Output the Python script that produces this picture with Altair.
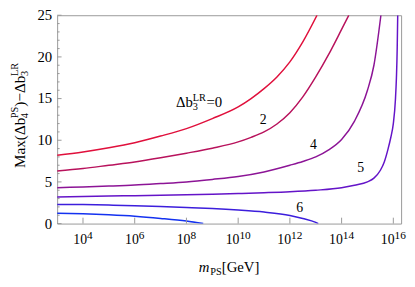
import altair as alt
import pandas as pd

# ---------------- data (log10 of m_PS in GeV, value) ----------------
curve_names = ["0", "2", "4", "5", "6", "7"]
curve_colors = ["#e0103c", "#b8125c", "#8c1496", "#6414c8", "#3c1edc", "#1432f0"]

e0 = [3, 4, 5, 6, 7, 8, 9, 10, 10.5, 11, 11.5, 12, 12.5, 13.05]
v0 = [8.2, 8.6, 9.1, 9.7, 10.5, 11.4, 12.6, 14.0, 15.0, 16.2, 17.6, 19.4, 21.8, 25]
e2 = [3, 4, 5, 6, 7, 8, 9, 10, 10.5, 11, 11.5, 12, 12.5, 13, 13.5, 14, 14.28]
v2 = [6.3, 6.6, 7.0, 7.4, 7.9, 8.45, 9.05, 9.8, 10.35, 11.0, 11.95, 13.3, 15.2, 17.6, 20.3, 23.3, 25]
e4 = [3, 4, 5, 6, 7, 8, 9, 10, 11, 12, 12.5, 13, 13.5, 14, 14.5, 15, 15.25, 15.52]
v4 = [4.3, 4.4, 4.5, 4.62, 4.8, 5.0, 5.3, 5.65, 6.2, 7.0, 7.45, 8.0, 8.85, 10.1, 12.3, 16.0, 19.0, 25]
e5 = [3, 4, 5, 6, 7, 8, 9, 10, 11, 12, 13, 14, 14.5, 15, 15.25, 15.5, 15.65, 15.8, 15.9, 16.0, 16.08, 16.12, 16.15, 16.17]
v5 = [3.2, 3.25, 3.3, 3.35, 3.4, 3.45, 3.52, 3.6, 3.7, 3.82, 4.0, 4.3, 4.6, 5.0, 5.45, 6.4, 7.4, 9.0, 10.3, 12.0, 14.8, 17.5, 21.0, 25]
e6 = [3, 4, 5, 6, 7, 8, 9, 10, 11, 12, 12.5, 13, 13.1]
v6 = [2.3, 2.28, 2.22, 2.15, 2.05, 1.93, 1.8, 1.62, 1.38, 0.98, 0.62, 0.15, 0]
e7 = [3, 4, 5, 6, 7, 8, 8.65]
v7 = [1.25, 1.17, 1.05, 0.88, 0.62, 0.3, 0]

curve_exps = [e0, e2, e4, e5, e6, e7]
curve_vals = [v0, v2, v4, v5, v6, v7]

# inline curve labels (log10 m, value)
num_labels = ["2", "4", "5", "6"]
num_lab_e = [10.97, 12.91, 14.74, 12.38]
num_lab_v = [12.38, 9.38, 6.71, 1.85]
main_lab_e = 7.6
main_lab_v = 13.97

x_tick_exps = [4, 6, 8, 10, 12, 14, 16]
y_major = [0, 5, 10, 15, 20, 25]
y_minor = [v for v in range(0, 26) if v % 5 != 0]

FONT = "Liberation Serif"
W, H = 350, 212

rows = []
for name, es, vs in zip(curve_names, curve_exps, curve_vals):
    for e, v in zip(es, vs):
        rows.append({"m": 10 ** e, "v": v, "curve": name})
df = pd.DataFrame(rows)

xscale = alt.Scale(type="log", domain=[1e3, 2e16], nice=False)
yscale = alt.Scale(domain=[0, 25], nice=False, zero=False)

lines = alt.Chart(df).mark_line(strokeWidth=1.5, interpolate="monotone", clip=True).encode(
    x=alt.X("m:Q", scale=xscale, axis=None),
    y=alt.Y("v:Q", scale=yscale, axis=None),
    color=alt.Color("curve:N", scale=alt.Scale(domain=curve_names, range=curve_colors), legend=None),
    detail="curve:N",
)

tick_gray = "#999999"
xt = alt.Chart(pd.DataFrame({"m": [10 ** e for e in x_tick_exps]})).mark_rule(color=tick_gray, strokeWidth=1).encode(
    x=alt.X("m:Q", scale=xscale), y=alt.value(H), y2=alt.value(H - 6))
ytM = alt.Chart(pd.DataFrame({"v": y_major})).mark_rule(color=tick_gray, strokeWidth=1).encode(
    y=alt.Y("v:Q", scale=yscale), x=alt.value(0), x2=alt.value(4.5))
ytm = alt.Chart(pd.DataFrame({"v": y_minor})).mark_rule(color=tick_gray, strokeWidth=1).encode(
    y=alt.Y("v:Q", scale=yscale), x=alt.value(0), x2=alt.value(2.5))

# y tick labels
ylab = alt.Chart(pd.DataFrame({"v": y_major, "t": [str(v) for v in y_major]})).mark_text(
    font=FONT, fontSize=15, color="black", align="right", baseline="middle").encode(
    y=alt.Y("v:Q", scale=yscale), x=alt.value(-5), text="t:N")

# x tick labels: "10" with a raised exponent, whole label centred on the tick
BASE, EXP = 14, 11.5
xlab_layers = []
for group in ([e for e in x_tick_exps if e < 10], [e for e in x_tick_exps if e >= 10]):
    ew = len(str(group[0])) * 0.5 * EXP
    wb = 2 * 0.5 * BASE
    off = (wb - ew) / 2
    d = pd.DataFrame({"m": [10 ** e for e in group], "b": ["10"] * len(group), "p": [str(e) for e in group]})
    xlab_layers.append(alt.Chart(d).mark_text(font=FONT, fontSize=BASE, color="black", align="right",
                                              baseline="alphabetic", dx=off).encode(
        x=alt.X("m:Q", scale=xscale), y=alt.value(H + 21), text="b:N"))
    xlab_layers.append(alt.Chart(d).mark_text(font=FONT, fontSize=EXP, color="black", align="left",
                                              baseline="alphabetic", dx=off).encode(
        x=alt.X("m:Q", scale=xscale), y=alt.value(H + 16), text="p:N"))

# number labels
nl = alt.Chart(pd.DataFrame({"m": [10 ** e for e in num_lab_e], "v": num_lab_v, "t": num_labels})).mark_text(
    font=FONT, fontSize=14, color="black", baseline="middle", align="center").encode(
    x=alt.X("m:Q", scale=xscale), y=alt.Y("v:Q", scale=yscale), text="t:N")

# main label  Δb_3^LR = 0
def lab(text, size, dx, dy):
    return alt.Chart(pd.DataFrame({"m": [10 ** main_lab_e], "v": [main_lab_v], "t": [text]})).mark_text(
        font=FONT, fontSize=size, color="black", align="left", baseline="alphabetic", dx=dx, dy=dy).encode(
        x=alt.X("m:Q", scale=xscale), y=alt.Y("v:Q", scale=yscale), text="t:N")

main_parts = [lab("Δb", 15, 0, 0), lab("LR", 10.5, 17, -6), lab("3", 10.5, 17, 3), lab("=0", 15, 31, 0)]

# axis titles as composed text
def ptext(text, x, y, size, angle=0, style="normal"):
    kw = dict(font=FONT, fontSize=size, color="black", align="left", baseline="alphabetic", fontStyle=style)
    if angle:
        kw["angle"] = angle
    return alt.Chart(pd.DataFrame({"t": [text]})).mark_text(**kw).encode(
        x=alt.value(x), y=alt.value(y), text="t:N")

# widths (em) approx for Times-like font
wmap = {"M": .889, "a": .444, "x": .5, "(": .333, ")": .333, "Δ": .612, "b": .5, "−": .564,
        "P": .556, "S": .556, "L": .611, "R": .667, "3": .5, "4": .5, "m": .778, "[": .333,
        "]": .333, "G": .722, "e": .444, "V": .722}
def wid(s, size):
    return sum(wmap.get(c, .5) for c in s) * size

# y title: pieces (main, sub, sup)
ypieces = [("Max(Δb", None, None), (None, "4", "PS"), (")−Δb", None, None), (None, "3", "LR")]
S, s = 15.5, 10.5
total = 0
for main, sb, sp in ypieces:
    total += wid(main, S) if main else max(wid(sb, s), wid(sp, s))
ycen = H / 2 - 4
pos = ycen + total / 2
bx = -33
ytitle = []
for main, sb, sp in ypieces:
    if main:
        ytitle.append(ptext(main, bx, pos, S, angle=270))
        pos -= wid(main, S)
    else:
        ytitle.append(ptext(sb, bx + 3, pos, s, angle=270))
        ytitle.append(ptext(sp, bx - 6.5, pos, s, angle=270))
        pos -= max(wid(sb, s), wid(sp, s))

# x title m_PS[GeV]
S2 = 15
xt_total = wid("m", S2) + wid("PS", s) + wid("[GeV]", S2)
px = W / 2 - xt_total / 2
by = H + 49
xtitle = [ptext("m", px, by, S2, style="italic")]
px += wid("m", S2)
xtitle.append(ptext("PS", px, by + 3, s))
px += wid("PS", s)
xtitle.append(ptext("[GeV]", px, by, S2))

chart = alt.layer(lines, xt, ytM, ytm, ylab, nl, *xlab_layers, *main_parts, *ytitle, *xtitle).properties(
    width=W, height=H,
    autosize=alt.AutoSizeParams(type="none"),
    padding={"left": 50, "top": 5, "right": 6, "bottom": 53},
).configure_view(stroke="#999999", strokeWidth=1)

chart.save("out.html", embed_options={"renderer": "svg", "actions": False})
